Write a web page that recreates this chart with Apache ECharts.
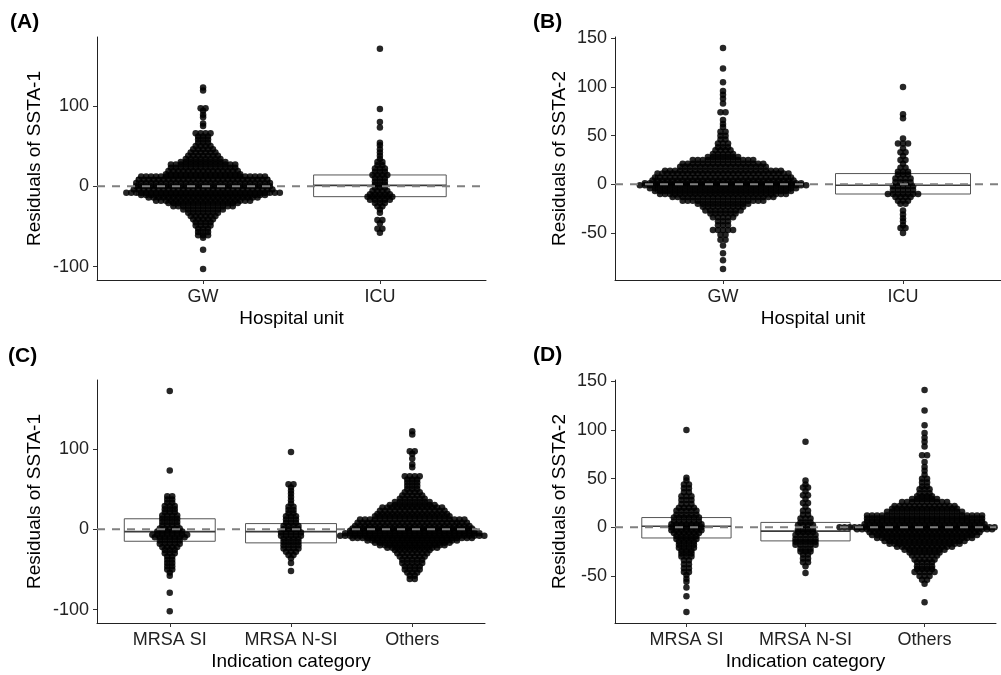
<!DOCTYPE html>
<html>
<head>
<meta charset="utf-8">
<script src="https://cdn.jsdelivr.net/npm/echarts@6/dist/echarts.min.js"></script>
<style>
  html, body { margin: 0; padding: 0; background: #fff; }
  #chart { width: 1001px; height: 675px; }
</style>
</head>
<body>
<div id="chart"></div>
<script>
// Category labels
const unitCategories = ['GW', 'ICU'];
const indicationCategories = ['MRSA SI', 'MRSA N-SI', 'Others'];

// Y tick labels
const ticksSSTA1 = [-100, 0, 100];
const ticksSSTA2 = [-50, 0, 50, 100, 150];

// Dot-plot rows: [residual, number of dots stacked side by side in that row]
// (A) SSTA-1 by hospital unit
const ssta1GW = [
  [123,1],[119,1],[97,2],[94,1],[89,1],[86,1],[78,1],[75,1],
  [66,4],[62,3],[58,3],[54,3],[50,4],[46,5],[42,6],[38,7],[34,8],[30,10],
  [27,14],[23,14],[19,15],[15,16],[12,26],[8,27],[4,28],[0,28],[-4,29],[-8,32],
  [-11,26],[-14,23],[-18,20],[-21,15],[-25,13],[-29,9],[-33,7],[-37,6],[-41,5],
  [-45,4],[-49,4],[-53,3],[-57,3],[-61,3],[-64,1],[-79,1],[-103,1]
];
const ssta1ICU = [
  [171,1],[96,1],[80,1],[73,1],[54,1],[51,1],[46,1],[42,1],[38,1],[34,1],
  [30,2],[26,2],[22,3],[18,3],[14,4],[10,3],[6,3],[2,3],[-2,3],[-6,4],[-10,5],
  [-13,6],[-17,5],[-21,3],[-25,2],[-29,1],[-33,1],[-42,2],[-46,1],[-53,2],[-58,1]
];
// (B) SSTA-2 by hospital unit
const ssta2GW = [
  [140,1],[119,1],[105,1],[96,1],[92,1],[88,1],[83,1],[74,2],[66,1],[62,1],[59,1],
  [54,2],[50,2],[46,2],[42,3],[38,3],[35,4],[31,5],[28,7],[25,13],[21,17],[18,18],
  [14,24],[11,27],[7,28],[4,29],[1,32],[-1,34],[-4,30],[-7,28],[-10,26],[-13,21],
  [-17,17],[-20,11],[-23,9],[-27,8],[-30,6],[-34,5],[-38,3],[-42,3],[-47,5],
  [-52,2],[-57,2],[-63,1],[-71,1],[-78,1],[-87,1]
];
const ssta2ICU = [
  [100,1],[72,1],[68,1],[47,1],[42,3],[37,1],[33,2],[29,1],[25,2],[21,1],[17,2],
  [13,3],[10,3],[6,4],[2,4],[-2,5],[-6,5],[-10,7],[-13,4],[-17,3],[-20,2],
  [-27,1],[-31,1],[-35,1],[-38,1],[-42,1],[-45,2],[-50,1]
];
// (C) SSTA-1 by indication category
const ssta1SI = [
  [172,1],[73,1],[41,2],[37,2],[33,2],[29,3],[25,3],[21,3],[17,4],[13,4],[9,4],
  [5,4],[1,5],[-3,6],[-7,8],[-10,7],[-14,5],[-18,5],[-22,4],[-26,3],[-30,3],
  [-34,2],[-38,2],[-42,2],[-46,2],[-50,2],[-54,1],[-58,1],[-79,1],[-102,1]
];
const ssta1NSI = [
  [96,1],[56,2],[52,1],[48,1],[44,1],[40,1],[36,1],[32,1],[28,2],[24,2],[20,2],
  [16,3],[12,3],[8,3],[4,4],[0,4],[-4,5],[-8,5],[-12,4],[-16,4],[-20,4],[-24,4],
  [-28,3],[-32,2],[-36,1],[-42,1],[-52,1]
];
const ssta1Others = [
  [122,1],[118,1],[97,2],[94,1],[88,1],[81,1],[77,1],[66,4],[62,3],[58,3],[54,3],
  [50,3],[46,4],[42,5],[38,6],[34,8],[30,10],[27,13],[23,14],[19,15],[16,16],
  [12,22],[8,23],[4,24],[1,25],[-2,26],[-5,28],[-8,30],[-11,25],[-14,19],[-17,16],
  [-20,14],[-23,11],[-26,8],[-30,7],[-34,6],[-38,5],[-42,5],[-46,4],[-50,4],
  [-54,3],[-58,2],[-62,2]
];
// (D) SSTA-2 by indication category
const ssta2SI = [
  [100,1],[51,1],[48,1],[44,2],[40,2],[36,2],[32,3],[28,3],[24,3],[20,4],[17,5],
  [13,5],[10,6],[6,6],[3,7],[0,7],[-3,7],[-6,6],[-9,5],[-12,5],[-15,4],[-18,4],
  [-21,4],[-24,3],[-27,3],[-30,3],[-34,2],[-38,2],[-42,2],[-46,2],[-49,1],[-53,1],
  [-56,1],[-62,1],[-71,1],[-87,1]
];
const ssta2NSI = [
  [88,1],[48,1],[44,1],[41,2],[37,1],[33,2],[29,1],[25,2],[21,1],[17,2],[13,2],
  [9,3],[5,3],[2,4],[-2,4],[-5,4],[-8,5],[-12,5],[-15,5],[-18,5],[-22,3],[-25,3],
  [-28,2],[-32,2],[-36,2],[-40,1],[-47,1]
];
const ssta2Others = [
  [141,1],[120,1],[105,1],[97,1],[92,1],[88,1],[83,1],[74,2],[67,1],[62,1],[58,1],
  [54,1],[50,2],[46,2],[42,2],[39,3],[35,3],[32,4],[29,6],[26,10],[22,13],[19,14],
  [16,16],[12,24],[9,24],[6,24],[3,25],[0,35],[-2,28],[-5,23],[-8,22],[-11,20],
  [-14,17],[-17,15],[-20,12],[-23,9],[-26,7],[-29,6],[-33,5],[-36,4],[-40,4],
  [-43,4],[-46,5],[-50,3],[-54,2],[-58,1],[-77,1]
];

// Box summaries per category: [q1, median, q3]
const boxSSTA1Unit = [[-11, -1, 11], [-13, 1, 14]];
const boxSSTA2Unit = [[-8, 0, 9], [-10, -1, 11]];
const boxSSTA1Ind = [[-15, -3, 13], [-17, -3, 7], [-10, -1, 10]];
const boxSSTA2Ind = [[-11, 1, 10], [-14, -4, 5], [-9, 0, 9]];

const FONT = "'Liberation Sans', Arial, Helvetica, sans-serif";

const panels = [
  { tag: '(A)', tagPos: [10, 23], grid: { left: 97, top: 37, width: 389, height: 243 },
    cats: unitCategories, groups: [ssta1GW, ssta1ICU], boxes: boxSSTA1Unit,
    yMin: -116.75, yMax: 185.75, ticks: ticksSSTA1, yName: 'Residuals of SSTA-1',
    yGap: 53, xName: 'Hospital unit', step: 0.028 },
  { tag: '(B)', tagPos: [533, 23], grid: { left: 615, top: 37, width: 396, height: 243 },
    cats: unitCategories, groups: [ssta2GW, ssta2ICU], boxes: boxSSTA2Unit,
    yMin: -98.4, yMax: 151.4, ticks: ticksSSTA2, yName: 'Residuals of SSTA-2',
    yGap: 46, xName: 'Hospital unit', step: 0.028 },
  { tag: '(C)', tagPos: [8, 357], grid: { left: 97, top: 380, width: 388, height: 243 },
    cats: indicationCategories, groups: [ssta1SI, ssta1NSI, ssta1Others], boxes: boxSSTA1Ind,
    yMin: -116.75, yMax: 185.75, ticks: ticksSSTA1, yName: 'Residuals of SSTA-1',
    yGap: 53, xName: 'Indication category', step: 0.041 },
  { tag: '(D)', tagPos: [533, 356], grid: { left: 615, top: 380, width: 381, height: 243 },
    cats: indicationCategories, groups: [ssta2SI, ssta2NSI, ssta2Others], boxes: boxSSTA2Ind,
    yMin: -98.4, yMax: 151.4, ticks: ticksSSTA2, yName: 'Residuals of SSTA-2',
    yGap: 46, xName: 'Indication category', step: 0.042 }
];

// Lay the dots of one row side by side, centred on the category
function stackRows(center, rows, step) {
  const pts = [];
  rows.forEach(([y, n]) => {
    for (let k = 0; k < n; k++) pts.push([center + (k - (n - 1) / 2) * step, y]);
  });
  return pts;
}

function renderBox(params, api) {
  const x = api.value(0), q1 = api.value(1), med = api.value(2), q3 = api.value(3);
  const half = 0.375;
  const tl = api.coord([x - half, q3]);
  const br = api.coord([x + half, q1]);
  const ml = api.coord([x - half, med]);
  const mr = api.coord([x + half, med]);
  return {
    type: 'group',
    children: [
      { type: 'rect', shape: { x: tl[0], y: tl[1], width: br[0] - tl[0], height: br[1] - tl[1] },
        style: { fill: 'none', stroke: '#555', lineWidth: 1 } },
      { type: 'line', shape: { x1: ml[0], y1: ml[1], x2: mr[0], y2: mr[1] },
        style: { stroke: '#3a3a3a', lineWidth: 1.6 } }
    ]
  };
}

const grids = [], xAxes = [], yAxes = [], series = [], graphics = [];

panels.forEach((p, i) => {
  const nCat = p.cats.length;
  const catPos = p.cats.map((_, k) => k + 1);
  const xMin = 0.4, xMax = nCat + 0.6;
  grids.push(Object.assign({ containLabel: false, outerBoundsMode: 'none' }, p.grid));
  xAxes.push({
    gridIndex: i, type: 'value', min: xMin, max: xMax,
    name: p.xName, nameLocation: 'middle', nameGap: 29,
    nameTextStyle: { fontFamily: FONT, fontSize: 19, color: '#000' },
    axisLine: { show: true, onZero: false, lineStyle: { color: '#222', width: 1 } },
    axisTick: { show: true, length: 4, customValues: catPos, lineStyle: { color: '#333' } },
    axisLabel: { customValues: catPos, margin: 8, fontFamily: FONT, fontSize: 18, color: '#222',
      formatter: v => p.cats[Math.round(v) - 1] },
    splitLine: { show: false }
  });
  yAxes.push({
    gridIndex: i, type: 'value', min: p.yMin, max: p.yMax,
    name: p.yName, nameLocation: 'middle', nameGap: p.yGap,
    nameTextStyle: { fontFamily: FONT, fontSize: 19, color: '#000' },
    axisLine: { show: true, onZero: false, lineStyle: { color: '#222', width: 1 } },
    axisTick: { show: true, length: 4, customValues: p.ticks, lineStyle: { color: '#333' } },
    axisLabel: { customValues: p.ticks, margin: 8, fontFamily: FONT, fontSize: 18, color: '#222' },
    splitLine: { show: false }
  });

  // boxes (under the dots)
  series.push({
    type: 'custom', xAxisIndex: i, yAxisIndex: i, z: 1, silent: true,
    renderItem: renderBox, encode: { x: 0, y: [1, 2, 3] },
    data: p.boxes.map((b, k) => [k + 1, b[0], b[1], b[2]])
  });

  // dots
  let pts = [];
  p.groups.forEach((rows, k) => { pts = pts.concat(stackRows(k + 1, rows, p.step)); });
  series.push({
    type: 'scatter', xAxisIndex: i, yAxisIndex: i, z: 2, silent: true, clip: true,
    symbol: 'circle', symbolSize: 6.5,
    itemStyle: { color: '#000', opacity: 0.85 },
    data: pts
  });

  // zero reference line (on top)
  series.push({
    type: 'line', xAxisIndex: i, yAxisIndex: i, z: 3, silent: true,
    symbol: 'none', data: [[xMin, 0], [xMax, 0]],
    lineStyle: { color: '#808080', width: 2, type: [8, 7] }
  });

  graphics.push({
    type: 'text', left: p.tagPos[0], top: p.tagPos[1] - 11,
    style: { text: p.tag, font: 'bold 21px ' + FONT, fill: '#000' }
  });
});

const chart = echarts.init(document.getElementById('chart'), null, { renderer: 'canvas' });
chart.setOption({
  animation: false,
  backgroundColor: '#fff',
  grid: grids,
  xAxis: xAxes,
  yAxis: yAxes,
  series: series,
  graphic: graphics
});
</script>
</body>
</html>
